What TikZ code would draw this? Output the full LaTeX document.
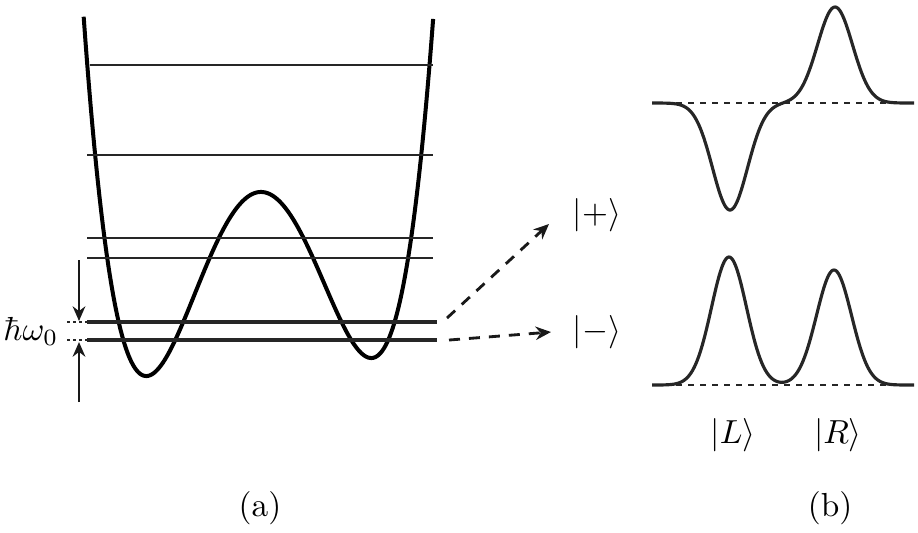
\documentclass[tikz,border=0pt]{standalone}
\usetikzlibrary{arrows.meta}
\begin{document}
\begin{tikzpicture}[x=0.3pt,y=-0.3pt,
  pot/.style={line width=1.2pt,black},
  lev/.style={line width=0.7pt,black!85},
  levb/.style={line width=0.95pt,black!85},
  wf/.style={line width=0.95pt,black!85},
  base/.style={line width=0.65pt,black!85,dash pattern=on 1.8pt off 1.8pt},
  lab/.style={font=\normalsize,inner sep=0pt},
  darr/.style={line width=0.85pt,black!90,dash pattern=on 3.3pt off 2.7pt,-{Stealth[length=4.6pt,width=4pt]}},
  varr/.style={line width=0.8pt,black!90,-{Stealth[length=4.4pt,width=3.8pt]}},
  ext/.style={line width=0.85pt,black!85,dash pattern=on 0.9pt off 0.9pt}]
\useasboundingbox (0,0) rectangle (918,532);
% potential
\draw[pot] plot[domain=-1.563:1.545,samples=200,variable=\u] ({259.5+112.5*\u},{400-(175*(\u*\u-1)^2+9*\u+33)});
% levels
\coordinate (l1a) at (90,65);  \coordinate (l1b) at (433,65);
\coordinate (l2a) at (87,155); \coordinate (l2b) at (433,155);
\coordinate (l3a) at (87,238); \coordinate (l3b) at (433,238);
\coordinate (l4a) at (87,258); \coordinate (l4b) at (433,258);
\coordinate (l5a) at (87,322); \coordinate (l5b) at (437,322);
\coordinate (l6a) at (87,340); \coordinate (l6b) at (437,340);
\draw[lev] (l1a) -- (l1b);
\draw[lev] (l2a) -- (l2b);
\draw[lev] (l3a) -- (l3b);
\draw[lev] (l4a) -- (l4b);
\draw[levb] (l5a) -- (l5b);
\draw[levb] (l6a) -- (l6b);
\coordinate (e5) at (67,322); \coordinate (e6) at (67,340);
\draw[ext] (e5) -- (l5a);
\draw[ext] (e6) -- (l6a);
% hbar omega arrows
\coordinate (a1s) at (79,260); \coordinate (a1e) at (79,321);
\coordinate (a2s) at (79,402); \coordinate (a2e) at (79,342);
\draw[varr] (a1s) -- (a1e);
\draw[varr] (a2s) -- (a2e);
\node[lab,anchor=east] (hw) at (59,331) {$\hbar\omega_0$};
% kets
\node[lab] (plus) at (597,215) {$|+\rangle$};
\node[lab] (minus) at (597,332) {$|-\rangle$};
\coordinate (d1s) at (447,318); \coordinate (d1e) at (549,224);
\coordinate (d2s) at (449,340); \coordinate (d2e) at (551,332);
\draw[darr] (d1s) -- (d1e);
\draw[darr] (d2s) -- (d2e);
% right panel
\coordinate (b1a) at (652,103); \coordinate (b1b) at (914,103);
\coordinate (b2a) at (652,385); \coordinate (b2b) at (914,385);
\draw[base] (b1a) -- (b1b);
\draw[base] (b2a) -- (b2b);
\draw[wf] plot[domain=652:914,samples=240,variable=\x]
  (\x,{103+107*exp(-min(40,((\x-730)/17.5)^2/2))-96*exp(-min(40,((\x-835)/17.5)^2/2))});
\draw[wf] plot[domain=652:914,samples=240,variable=\x]
  (\x,{385-128*exp(-min(40,((\x-729)/17.5)^2/2))-115*exp(-min(40,((\x-834)/17.5)^2/2))});
\node[lab] (L) at (733,435) {$|L\rangle$};
\node[lab] (R) at (838,435) {$|R\rangle$};
\node[lab] (pa) at (260,508) {(a)};
\node[lab] (pb) at (830,508) {(b)};
\end{tikzpicture}
\end{document}
